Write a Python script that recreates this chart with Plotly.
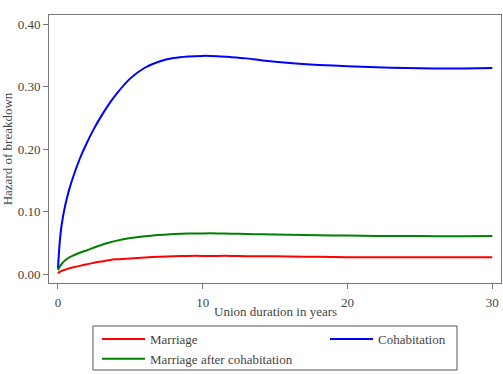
import plotly.graph_objects as go

years = [0, 0.1, 0.25, 0.5, 0.75, 1, 1.5, 2, 2.5, 3, 3.5, 4, 5, 6, 7, 8, 9, 10, 11, 12, 13, 14, 16, 18, 20, 22, 24, 26, 28, 30]
cohabitation = [0.009, 0.045, 0.078, 0.110, 0.133, 0.152, 0.184, 0.210, 0.233, 0.253, 0.271, 0.287, 0.313, 0.330, 0.340, 0.3455, 0.348, 0.349, 0.3485, 0.347, 0.345, 0.342, 0.3375, 0.3345, 0.3325, 0.3308, 0.3295, 0.329, 0.329, 0.3295]
marr_after_cohab = [0.006, 0.011, 0.016, 0.022, 0.026, 0.029, 0.034, 0.038, 0.0425, 0.0465, 0.050, 0.053, 0.0575, 0.0605, 0.0625, 0.064, 0.0648, 0.065, 0.065, 0.0645, 0.064, 0.0635, 0.063, 0.062, 0.0615, 0.061, 0.061, 0.0605, 0.0605, 0.061]
marriage = [0.001, 0.003, 0.005, 0.007, 0.009, 0.0105, 0.013, 0.0155, 0.018, 0.020, 0.022, 0.0235, 0.025, 0.0265, 0.0275, 0.0285, 0.029, 0.029, 0.029, 0.029, 0.0285, 0.0285, 0.028, 0.0275, 0.027, 0.027, 0.027, 0.027, 0.027, 0.027]

series = [
    ("Marriage", marriage, "#ff0000", "legend"),
    ("Cohabitation", cohabitation, "#0000ff", "legend2"),
    ("Marriage after cohabitation", marr_after_cohab, "#008000", "legend"),
]

FONT = "Liberation Serif"
TXT = "#444444"
AX = "#777777"

fig = go.Figure()
for name, vals, col, leg in series:
    fig.add_trace(go.Scatter(x=years, y=vals, name=name, mode="lines", legend=leg,
                             line=dict(color=col, width=2, shape="spline", smoothing=0.6)))

leg_common = dict(orientation="v", yanchor="top", xanchor="left", yref="container", y=0.1337,
                  bgcolor="rgba(0,0,0,0)", borderwidth=0, itemwidth=43,
                  font=dict(family=FONT, size=13, color=TXT), traceorder="normal")

fig.update_layout(
    width=503, height=374,
    margin=dict(l=49, r=2, t=15, b=91),
    paper_bgcolor="white", plot_bgcolor="white",
    font=dict(family=FONT, size=13, color=TXT),
    showlegend=True,
    legend=dict(x=0.1062, **leg_common),
    legend2=dict(x=0.6106, **leg_common),
    shapes=[dict(type="rect", xref="paper", yref="paper", x0=0.0973, x1=0.9027,
                 y0=-0.1604, y1=-0.3246, line=dict(color="#555555", width=1),
                 fillcolor="rgba(0,0,0,0)", layer="below")],
    annotations=[dict(text="Union duration in years", xref="paper", yref="paper",
                      x=0.5, y=-0.1045, xanchor="center", yanchor="middle", showarrow=False,
                      font=dict(family=FONT, size=13, color=TXT))],
)
fig.update_xaxes(range=[-0.62, 30.6], tickvals=[0, 10, 20, 30], showgrid=False, zeroline=False,
                 showline=True, linecolor=AX, linewidth=1, mirror=True,
                 ticks="outside", ticklen=5, tickcolor=AX, ticklabelstandoff=2)
fig.update_yaxes(range=[-0.0144, 0.4144], tickvals=[0, 0.1, 0.2, 0.3, 0.4], tickformat=".2f",
                 showgrid=False, zeroline=False,
                 showline=True, linecolor=AX, linewidth=1, mirror=True,
                 ticks="outside", ticklen=5, tickcolor=AX,
                 title=dict(text="Hazard of breakdown", standoff=6, font=dict(size=13)))

fig.write_html("out.html")
